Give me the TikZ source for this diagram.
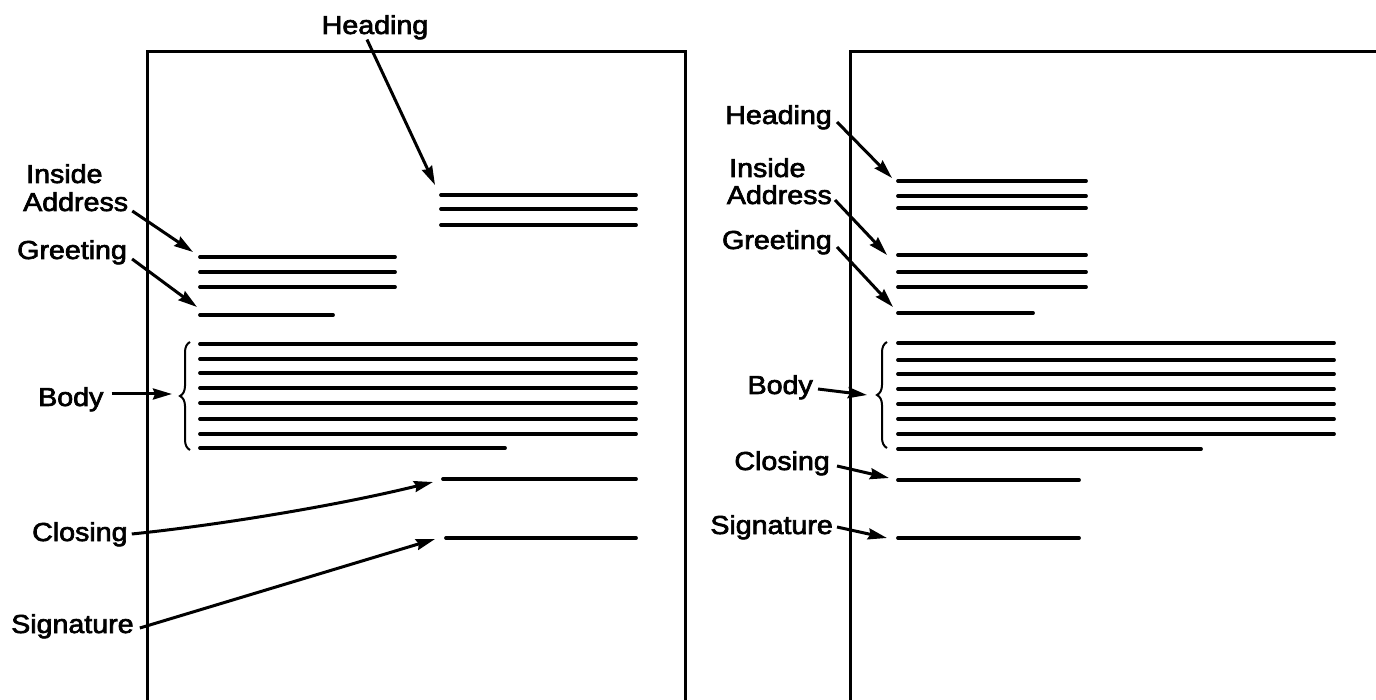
\documentclass[tikz,border=0pt]{standalone}
\usepackage{fontspec}
\setmainfont{Liberation Sans}
\newfontfamily\lblfont{Liberation Sans}[FakeBold=2.5]
\usetikzlibrary{arrows.meta,decorations.pathreplacing}
\newcommand\lbl[1]{\scalebox{1.1}[1]{#1}}
\begin{document}
\begin{tikzpicture}[x=1pt,y=-1pt,
  page/.style={line width=3pt},
  txt/.style={line width=3.8pt,line cap=round},
  ptr/.style={line width=3pt,-{Stealth[length=19pt,width=11pt,inset=2pt]}},
  lab/.style={inner sep=0pt,font=\lblfont\fontsize{26}{30}\selectfont},
  brc/.style={line width=2pt,decorate,decoration={brace,amplitude=10pt}}]
\useasboundingbox (0,0) rectangle (1376,700);
% pages
\draw[page] (147,700) -- (147,52) -- (685,52) -- (685,700);
\draw[page] (850,700) -- (850,52) -- (1376,52);
% left page text lines
\foreach \y in {195,209,225} \draw[txt] (441,\y) -- (636,\y);
\foreach \y in {257,272,287} \draw[txt] (200,\y) -- (395,\y);
\draw[txt] (200,315) -- (333,315);
\foreach \y in {344,359,373,388,403,419,434} \draw[txt] (200,\y) -- (636,\y);
\draw[txt] (200,448) -- (505,448);
\draw[txt] (443,479) -- (636,479);
\draw[txt] (446,538) -- (636,538);
% right page text lines
\foreach \y in {181,196,208} \draw[txt] (898,\y) -- (1086,\y);
\foreach \y in {255,272,287} \draw[txt] (898,\y) -- (1086,\y);
\draw[txt] (898,313) -- (1033,313);
\foreach \y in {343,360,374,389,404,419,434} \draw[txt] (898,\y) -- (1334,\y);
\draw[txt] (898,449) -- (1201,449);
\draw[txt] (898,480) -- (1079,480);
\draw[txt] (898,538) -- (1079,538);
% braces
\draw[brc] (190,450) -- (190,342);
\draw[brc] (887,448) -- (887,342);
% arrow targets
\coordinate (hTL) at (435,185);
\coordinate (aTL) at (193,252);
\coordinate (gTL) at (197,307);
\coordinate (bTL) at (172,394);
\coordinate (cTL) at (433,482);
\coordinate (sTL) at (435,539);
\coordinate (hTR) at (892,178);
\coordinate (aTR) at (887,255);
\coordinate (gTR) at (893,307);
\coordinate (bTR) at (867,395);
\coordinate (cTR) at (889,478);
\coordinate (sTR) at (887,538);
% left labels
\node[lab,anchor=base] (hL) at (375,34) {\lbl{Heading}};
\node[lab,anchor=base west] (iL) at (26,183) {\lbl{Inside}};
\node[lab,anchor=base west] (aL) at (23,211) {\lbl{Address}};
\node[lab,anchor=base west] (gL) at (17,259) {\lbl{Greeting}};
\node[lab,anchor=base west] (bL) at (38,406) {\lbl{Body}};
\node[lab,anchor=base west] (cL) at (32,541) {\lbl{Closing}};
\node[lab,anchor=base west] (sL) at (11,633) {\lbl{Signature}};
% right labels
\node[lab,anchor=base east] (hR) at (832,124) {\lbl{Heading}};
\node[lab,anchor=base west] (iR) at (729,177) {\lbl{Inside}};
\node[lab,anchor=base east] (aR) at (832,204) {\lbl{Address}};
\node[lab,anchor=base east] (gR) at (832,249) {\lbl{Greeting}};
\node[lab,anchor=base east] (bR) at (813,394) {\lbl{Body}};
\node[lab,anchor=base east] (cR) at (830,470) {\lbl{Closing}};
\node[lab,anchor=base east] (sR) at (833,534) {\lbl{Signature}};
% left arrows
\draw[ptr] ([xshift=-8pt]hL.south) -- (hTL);
\draw[ptr] ([xshift=4pt]aL.base east) -- (aTL);
\draw[ptr] ([xshift=5pt]gL.base east) -- (gTL);
\draw[ptr] ([xshift=8pt,yshift=12pt]bL.base east) -- (bTL);
\draw[ptr] ([xshift=4pt,yshift=7pt]cL.base east) .. controls (220,525) and (340,505) .. (cTL);
\draw[ptr] ([xshift=6pt,yshift=5pt]sL.base east) -- (sTL);
% right arrows
\draw[ptr] ([xshift=5pt,yshift=2pt]hR.base east) -- (hTR);
\draw[ptr] ([xshift=3pt,yshift=4pt]aR.base east) -- (aTR);
\draw[ptr] ([xshift=5pt,yshift=2pt]gR.base east) -- (gTR);
\draw[ptr] ([xshift=5pt,yshift=5pt]bR.base east) -- (bTR);
\draw[ptr] ([xshift=7pt,yshift=4pt]cR.base east) -- (cTR);
\draw[ptr] ([xshift=4pt,yshift=7pt]sR.base east) -- (sTR);
\end{tikzpicture}
\end{document}
